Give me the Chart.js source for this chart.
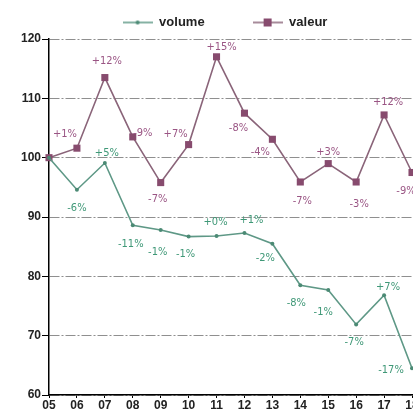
<!DOCTYPE html>
<html>
<head>
<meta charset="utf-8">
<script src="https://cdn.jsdelivr.net/npm/chart.js@4/dist/chart.umd.min.js"></script>
<style>
  html, body { margin: 0; padding: 0; background: #fff; overflow: hidden; }
  #wrap { position: relative; width: 450px; height: 412px; }
</style>
</head>
<body>
<div id="wrap"><canvas id="myChart"></canvas></div>
<script>
'use strict';

// data (index 2005 = 100)
var years = ['05', '06', '07', '08', '09', '10', '11', '12', '13', '14', '15', '16', '17', '18'];
var volume = [100, 94.6, 99.1, 88.6, 87.8, 86.7, 86.8, 87.3, 85.5, 78.5, 77.7, 71.9, 76.8, 64.5];
var valeur = [100, 101.6, 113.5, 103.5, 95.8, 102.2, 117, 107.5, 103.1, 95.9, 99, 95.9, 107.2, 97.5];
var volumeLabels = ['', '-6%', '+5%', '-11%', '-1%', '-1%', '+0%', '+1%', '-2%', '-8%', '-1%', '-7%', '+7%', '-17%'];
var valeurLabels = ['', '+1%', '+12%', '-9%', '-7%', '+7%', '+15%', '-8%', '-4%', '-7%', '+3%', '-3%', '+12%', '-9%'];
var yTicks = [60, 70, 80, 90, 100, 110, 120];

// label offsets from the point (px)
var volumeOffsets = [[0,0],[0,18],[2,-10],[-2,19],[-3,22],[-3,18],[-1,-14],[7,-13],[-7,14],[-4,18],[-5,22],[-2,18],[4,-8],[-21,2]];
var valeurOffsets = [[0,0],[-12,-14],[2,-16],[10,-4],[-3,17],[-13,-10],[5,-10],[-6,15],[-12,13],[2,19],[0,-11],[3,22],[4,-13],[-6,19]];

var FONT = "'Liberation Sans Narrow', 'DejaVu Sans Condensed', 'Arial Narrow', sans-serif";
var AXISFONT = "'Liberation Sans', Arial, sans-serif";
var green = '#5e9886', greenDark = '#4b8a74', greenText = '#3f9877';
var mauve = '#8a6479', mauveDark = '#874b6e', mauveText = '#9a5584';

//small legend pictures: line with its marker
function legendIcon(lineColor, markColor, square) {
  var c = document.createElement('canvas');
  c.width = 30; c.height = 10;
  var g = c.getContext('2d');
  g.strokeStyle = lineColor;
  g.lineWidth = 1.5;
  g.beginPath(); g.moveTo(0, 5); g.lineTo(30, 5); g.stroke();
  g.fillStyle = markColor;
  if (square) {
    g.fillRect(11, 1, 8, 8);
  } else {
    g.beginPath(); g.arc(15, 5, 2, 0, Math.PI * 2); g.fill();
  }
  return c;
}

//percentage labels next to the points
var pointLabels = {
  id: 'pointLabels',
  afterDatasetsDraw: function(chart) {
    var ctx = chart.ctx;
    ctx.save();
    ctx.font = '11px ' + FONT;
    ctx.textAlign = 'center';
    ctx.textBaseline = 'middle';
    chart.data.datasets.forEach(function(ds, i) {
      var meta = chart.getDatasetMeta(i);
      ctx.fillStyle = ds.labelColor;
      meta.data.forEach(function(pt, j) {
        var txt = ds.pctLabels[j];
        if (!txt) return;
        var off = ds.labelOffsets[j];
        ctx.fillText(txt, pt.x + off[0], pt.y + off[1]);
      });
    });
    ctx.restore();
  }
};

var ctx = document.getElementById('myChart').getContext('2d');

var chart = new Chart(ctx, {
  type: 'line',
  data: {
    labels: years,
    datasets: [{
      label: 'volume',
      data: volume,
      borderColor: green,
      backgroundColor: greenDark,
      borderWidth: 1.6,
      pointRadius: 2,
      pointBorderWidth: 0,
      pointStyle: 'circle',
      tension: 0,
      pctLabels: volumeLabels,
      labelOffsets: volumeOffsets,
      labelColor: greenText,
      legendIcon: legendIcon(green, greenDark, false)
    },
    {
      label: 'valeur',
      data: valeur,
      borderColor: mauve,
      backgroundColor: mauveDark,
      borderWidth: 1.6,
      pointRadius: 5,
      pointBorderWidth: 0,
      pointStyle: 'rect',
      tension: 0,
      pctLabels: valeurLabels,
      labelOffsets: valeurOffsets,
      labelColor: mauveText,
      legendIcon: legendIcon(mauve, mauveDark, true)
    }]
  },
  options: {
    responsive: true,
    maintainAspectRatio: false,
    animation: false,
    clip: false,
    layout: { padding: { top: -39, right: 0, left: 0, bottom: 0 } },
    plugins: {
      tooltip: { enabled: false },
      legend: {
        display: true,
        position: 'top',
        labels: {
          usePointStyle: true,
          pointStyleWidth: 30,
          padding: 48,
          color: '#222',
          font: { family: AXISFONT, size: 13, weight: 'bold' },
          generateLabels: function(chart) {
            return chart.data.datasets.map(function(ds, i) {
              return {
                text: ds.label,
                pointStyle: ds.legendIcon,
                fillStyle: ds.borderColor,
                strokeStyle: ds.borderColor,
                lineWidth: 0,
                fontColor: '#222',
                datasetIndex: i,
                hidden: false
              };
            });
          }
        }
      }
    },
    scales: {
      x: {
        type: 'category',
        offset: false,
        border: { display: true, color: '#000', width: 1.5 },
        grid: { display: true, drawOnChartArea: false, drawTicks: true, tickLength: 3, tickColor: '#000', tickWidth: 1 },
        ticks: { color: '#222', font: { family: AXISFONT, size: 12, weight: 'bold' }, padding: 0, maxRotation: 0, autoSkip: false },
        afterFit: function(s) { s.height = 17; }
      },
      y: {
        min: 60,
        max: 120,
        border: { display: true, color: '#000', width: 1.5, dash: [10, 2, 2, 2] },
        grid: {
          color: '#8f8f8f',
          lineWidth: 1,
          tickBorderDash: [],
          tickColor: '#000',
          tickLength: 7
        },
        afterBuildTicks: function(s) {
          s.ticks = yTicks.map(function(v) { return { value: v }; });
        },
        ticks: { color: '#222', font: { family: AXISFONT, size: 12, weight: 'bold' }, padding: 1 },
        afterFit: function(s) { s.width = 49; s.paddingTop = 39; }
      },
      //empty strip on the right, the part of the plot cut off in the picture
      yRight: {
        position: 'right',
        min: 60,
        max: 120,
        border: { display: false },
        grid: { display: false, drawTicks: false },
        ticks: { display: false },
        afterFit: function(s) { s.width = 38; }
      }
    }
  },
  plugins: [pointLabels]
});
</script>
</body>
</html>
